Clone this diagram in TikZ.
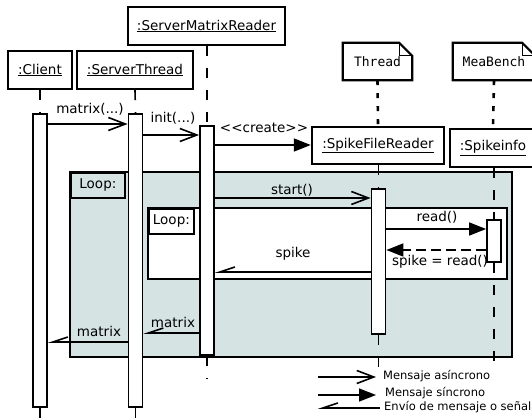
\documentclass[tikz,border=0pt]{standalone}
\usepackage{fontspec}
\setmainfont{DejaVu Sans}
\setmonofont{DejaVu Sans Mono}
\usetikzlibrary{arrows.meta}
\definecolor{loopfill}{RGB}{213,227,227}

\begin{document}
\begin{tikzpicture}[x=1pt,y=-1pt,
	txt/.style={font=\fontsize{13.5}{15}\selectfont, inner sep=0pt},
	legend/.style={font=\fontsize{11.5}{13}\selectfont, inner sep=0pt, anchor=west},
	obj/.style={draw, line width=2.4pt, fill=white, font=\fontsize{13.5}{15}\selectfont, inner sep=0pt},
	note/.style={font=\ttfamily\fontsize{13}{15}\selectfont, inner sep=0pt},
	bar/.style={draw, line width=1.8pt, fill=white, minimum width=14pt, inner sep=0pt, anchor=north},
	life/.style={line width=1.6pt, dash pattern=on 10pt off 12pt},
	dots/.style={line width=2.6pt, dash pattern=on 5pt off 8pt},
	loopbox/.style={draw, line width=1.8pt},
	async/.style={line width=1.6pt, -{Straight Barb[length=17pt,width=13pt]}},
	sync/.style={line width=1.6pt, -{Triangle[length=17pt,width=13pt]}},
	signal/.style={line width=1.6pt, -{Straight Barb[right,length=15pt,width=10pt]}},
	]
	\useasboundingbox (0,0) rectangle (532,419);
	\clip (0,0) rectangle (532,419);

	% loops
	\draw[loopbox, fill=loopfill] (70,172) rectangle (512,357);
	\node[loopbox, txt, fill=loopfill, anchor=north west, minimum width=54pt, minimum height=25pt] (loopa) at (70,172) {Loop:};
	\draw[loopbox, fill=white] (148,208) rectangle (507,279);
	\node[loopbox, txt, fill=white, anchor=north west, minimum width=45pt, minimum height=25pt] (loopb) at (148,208) {Loop:};

	% objects
	\node[obj, minimum width=64pt, minimum height=38pt] (cl) at (40,70) {\underline{:Client}};
	\node[obj, minimum width=116pt, minimum height=38pt] (st) at (135,70) {\underline{:ServerThread}};
	\node[obj, minimum width=157pt, minimum height=38pt] (smr) at (206.5,26) {\underline{:ServerMatrixReader}};
	\node[obj, minimum width=132pt, minimum height=37pt] (sfr) at (378,145.5) {\underline{:SpikeFileReader}};
	\node[obj, minimum width=86pt, minimum height=38pt] (si) at (493,148) {\underline{:Spikeinfo}};
	\node[note, minimum width=69pt, minimum height=37pt] (thr) at (377.5,61.5) {Thread};
	\node[note, minimum width=82pt, minimum height=37pt] (mea) at (494,61.5) {MeaBench};
	\foreach \n in {thr,mea} {
		\draw[line width=2.2pt, fill=white] (\n.south west) -- (\n.north west) -- ([xshift=-13pt]\n.north east)
			-- ([yshift=-13pt]\n.north east) -- (\n.south east) -- cycle;
		\draw[line width=1.4pt] ([xshift=-13pt]\n.north east) -- ([xshift=-13pt,yshift=-13pt]\n.north east) -- ([yshift=-13pt]\n.north east);
	}
	\node[note] at (thr) {Thread};
	\node[note] at (mea) {MeaBench};
	\draw[dots] (thr.south) -- (sfr.north);
	\draw[dots] (mea.south) -- (si.north);

	% activation bars
	\node[bar, minimum height=293pt] (clbar) at (40,113) {};
	\node[bar, minimum height=293pt] (stbar) at (135.5,113) {};
	\node[bar, minimum height=229pt] (smrbar) at (207,125) {};
	\node[bar, minimum height=145pt] (sfrbar) at (378.5,188) {};
	\node[bar, minimum height=42pt] (sibar) at (494,219) {};

	% lifelines
	\coordinate (bottom) at (0,430);
	\coordinate (smrend) at (0,378);
	\coordinate (sfrend) at (0,371);
	\coordinate (siend) at (0,369);
	\draw[life] (cl.south) -- (clbar.north);
	\draw[life] (clbar.south) -- (clbar.south |- bottom);
	\draw[life] (st.south) -- (stbar.north);
	\draw[life] (stbar.south) -- (stbar.south |- bottom);
	\draw[life] (smr.south -| smrbar) -- (smrbar.north);
	\draw[life] (smrbar.south) -- (smrbar.south |- smrend);
	\draw[life] (sfr.south -| sfrbar) -- (sfrbar.north);
	\draw[life] (sfrbar.south) -- (sfrbar.south |- sfrend);
	\draw[life] (si.south -| sibar) -- (sibar.north);
	\draw[life] (sibar.south) -- (sibar.south |- siend);
	\node[bar, minimum height=229pt] at (smrbar.north) {};
	\node[bar, minimum height=145pt] at (sfrbar.north) {};
	\node[bar, minimum height=42pt] at (sibar.north) {};

	% messages
	\coordinate (m1) at (0,124);
	\coordinate (m2) at (0,135);
	\coordinate (m3) at (0,145);
	\coordinate (m4) at (0,198);
	\coordinate (m5) at (0,229);
	\coordinate (m6) at (0,250);
	\coordinate (m7) at (0,272);
	\coordinate (m8) at (0,333);
	\coordinate (m9) at (0,342);
	\draw[async] (clbar.east |- m1) -- (stbar.west |- m1);
	\draw[async] (stbar.east |- m2) -- (smrbar.west |- m2);
	\draw[sync] (smrbar.east |- m3) -- (sfr.west |- m3);
	\draw[async] (smrbar.east |- m4) -- (sfrbar.west |- m4);
	\draw[sync] (sfrbar.east |- m5) -- (sibar.west |- m5);
	\draw[sync, dash pattern=on 10pt off 5pt] (sibar.west |- m6) -- (sfrbar.east |- m6);
	\draw[signal] (sfrbar.west |- m7) -- (smrbar.east |- m7);
	\draw[signal] (smrbar.west |- m8) -- (stbar.east |- m8);
	\draw[signal] (stbar.west |- m9) -- (clbar.east |- m9);
	\node[txt] (l1) at (90,109) {matrix(...)};
	\node[txt] (l2) at (173,118) {init(...)};
	\node[txt] (l3) at (264,128) {{<}{<}create{>}{>}};
	\node[txt] (l4) at (292,190) {start()};
	\node[txt] (l5) at (437,217) {read()};
	\node[txt] (l6) at (440,262) {spike = read()};
	\node[txt] (l7) at (293,254) {spike};
	\node[txt] (l8) at (173,322) {matrix};
	\node[txt] (l9) at (99,331) {matrix};

	% legend
	\node[legend] (lg1) at (383,376) {Mensaje asíncrono};
	\node[legend] (lg2) at (385,393) {Mensaje síncrono};
	\node[legend] (lg3) at (384,407) {Envío de mensaje o señal};
	\coordinate (lga) at (318,377);
	\coordinate (lgb) at (318,395);
	\coordinate (lgc) at (318,408);
	\draw[async, shorten >=7pt] (lga) -- (lga -| lg1.west);
	\draw[sync, shorten >=9pt] (lgb) -- (lgb -| lg2.west);
	\draw[signal, shorten <=4pt] (lgc -| lg3.west) -- (lgc);
\end{tikzpicture}
\end{document}
